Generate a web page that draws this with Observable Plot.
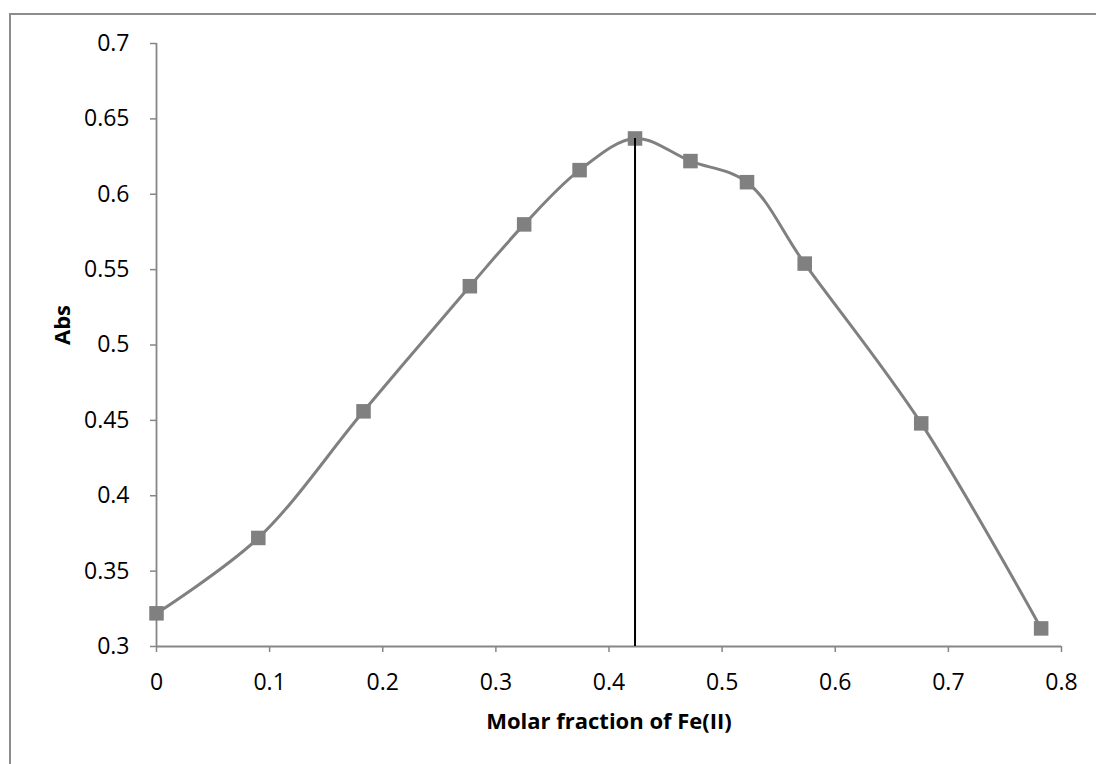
<!DOCTYPE html>
<html>
<head>
<meta charset="utf-8">
<script src="https://cdn.jsdelivr.net/npm/d3@7"></script>
<script src="https://cdn.jsdelivr.net/npm/@observablehq/plot@0.6"></script>
<style>
  html, body { margin: 0; padding: 0; background: #fff; }
  #wrap { position: relative; width: 1096px; height: 764px; overflow: hidden; }
  #border { position: absolute; left: 9px; top: 13px; width: 1200px; height: 900px;
            border-left: 2px solid #8c8c8c; border-top: 2px solid #8c8c8c; }
  #chart { position: absolute; left: 0; top: 0; }
</style>
</head>
<body>
<div id="wrap"><div id="border"></div><div id="chart"></div></div>
<script>
// Job's method (continuous variation): absorbance vs. molar fraction of Fe(II)
const molarFraction = [0, 0.09, 0.183, 0.277, 0.325, 0.374, 0.423, 0.472, 0.522, 0.573, 0.676, 0.782];
const absorbance    = [0.322, 0.372, 0.456, 0.539, 0.580, 0.616, 0.637, 0.622, 0.608, 0.554, 0.448, 0.312];

const xTicks = [0, 0.1, 0.2, 0.3, 0.4, 0.5, 0.6, 0.7, 0.8];
const yTicks = [0.3, 0.35, 0.4, 0.45, 0.5, 0.55, 0.6, 0.65, 0.7];

const xTitle = "Molar fraction of Fe(II)";
const yTitle = "Abs";

const points = molarFraction.map((x, i) => ({x, y: absorbance[i]}));
// stoichiometry read at the absorbance maximum
const peak = points.reduce((a, b) => (b.y > a.y ? b : a));

const gray = "#808080";
const axisGray = "#868686";
const font = "'Open Sans', 'Liberation Sans', sans-serif";

const chart = Plot.plot({
  width: 1096,
  height: 764,
  marginLeft: 156,
  marginRight: 35,
  marginTop: 43,
  marginBottom: 118,
  style: {fontFamily: font, fontSize: "23px", color: "#000", background: "transparent"},
  x: {domain: [0, 0.8]},
  y: {domain: [0.3, 0.7]},
  marks: [
    Plot.axisX({ticks: xTicks, tickFormat: d => String(d), tickSize: 6, tickPadding: 21,
                fontSize: 23, fontFamily: font,
                stroke: axisGray, strokeWidth: 1.5, fill: "#000", label: null}),
    Plot.axisY({ticks: yTicks, tickFormat: d => String(d), tickSize: 6, tickPadding: 21,
                fontSize: 23, fontFamily: font,
                stroke: axisGray, strokeWidth: 1.5, fill: "#000", label: null}),
    Plot.ruleX([0], {stroke: axisGray, strokeWidth: 1.8}),
    Plot.ruleY([0.3], {stroke: axisGray, strokeWidth: 1.8}),
    Plot.line(points, {x: "x", y: "y", curve: "catmull-rom", stroke: gray, strokeWidth: 3}),
    Plot.dot(points, {x: "x", y: "y", symbol: "square", r: 8.2, fill: gray, stroke: "none"}),
    Plot.ruleX([peak], {x: "x", y1: 0.3, y2: "y", stroke: "#000", strokeWidth: 2}),
    Plot.text([xTitle], {text: d => d, frameAnchor: "bottom", dy: 75.5, lineAnchor: "middle",
                         fontWeight: "bold", fontSize: 22, fontFamily: font, fill: "#000"}),
    Plot.text([yTitle], {text: d => d, frameAnchor: "left", dx: -93.5, rotate: -90, lineAnchor: "middle",
                         fontWeight: "bold", fontSize: 22, fontFamily: font, fill: "#000"})
  ]
});

document.getElementById("chart").appendChild(chart);
</script>
</body>
</html>
